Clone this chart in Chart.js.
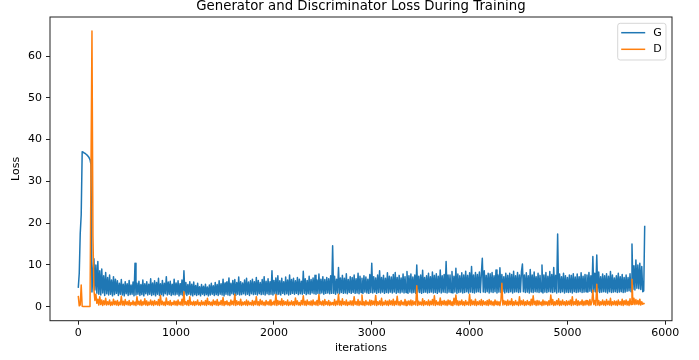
<!DOCTYPE html>
<html>
<head>
<meta charset="utf-8">
<title>Generator and Discriminator Loss During Training</title>
<script src="https://cdn.jsdelivr.net/npm/chart.js@4/dist/chart.umd.min.js"></script>
<style>
  html, body { margin: 0; padding: 0; background: #fff; }
  canvas { display: block; }
</style>
</head>
<body>
<canvas id="graficoLoss" width="699" height="360"></canvas>
<script>
// loss values, one sample every 10 iterations (one row = 100 iterations)
const ITER_STEP = 10;
const seriesLabels = ['G', 'D'];

const lossG = [
  4.5, 8.0, 17.5, 22.0, 37.1, 37.0, 36.8, 36.7, 36.5, 36.3,
  36.0, 35.7, 35.2, 34.0, 3.5, 8.0, 11.5, 4.0, 10.0, 3.2,
  10.8, 3.0, 8.6, 2.8, 9.0, 3.3, 7.4, 2.7, 8.2, 3.1,
  7.0, 2.8, 7.6, 3.0, 6.4, 2.6, 7.2, 2.9, 6.6, 3.2,
  6.2, 2.7, 5.6, 3.0, 6.5, 2.8, 5.4, 2.6, 6.0, 3.1,
  5.5, 2.7, 6.3, 2.9, 5.2, 3.0, 5.9, 2.6, 10.4, 2.8,
  5.6, 3.0, 6.1, 2.7, 5.3, 2.9, 6.4, 2.6, 5.5, 3.1,
  6.0, 2.8, 5.4, 3.0, 6.7, 2.7, 5.7, 2.9, 6.2, 2.6,
  5.8, 3.0, 6.8, 2.7, 5.5, 2.9, 6.3, 2.6, 5.6, 3.1,
  7.2, 2.8, 5.9, 3.0, 6.1, 2.7, 5.4, 2.9, 6.6, 2.8,
  5.7, 3.0, 6.2, 2.6, 5.5, 2.9, 6.4, 2.7, 8.6, 3.0,
  5.8, 2.7, 5.3, 3.0, 6.0, 2.8, 5.4, 2.6, 5.9, 2.9,
  5.1, 2.7, 5.6, 2.9, 4.8, 2.6, 5.3, 3.0, 4.9, 2.7,
  5.4, 2.9, 4.7, 2.6, 5.2, 2.8, 5.6, 3.0, 5.0, 2.7,
  5.8, 2.9, 5.3, 2.7, 6.2, 3.0, 5.5, 2.8, 6.6, 2.6,
  5.7, 3.0, 6.0, 2.8, 6.9, 2.7, 5.6, 3.1, 6.3, 2.9,
  6.5, 2.7, 5.8, 3.0, 7.1, 2.8, 6.0, 2.9, 5.7, 3.1,
  6.4, 2.8, 6.8, 3.0, 5.9, 2.7, 6.2, 3.1, 6.6, 2.9,
  6.0, 3.0, 7.0, 2.8, 6.3, 3.1, 5.8, 2.9, 6.5, 3.0,
  7.2, 2.8, 6.1, 3.1, 6.7, 2.9, 6.0, 3.0, 8.6, 2.8,
  6.3, 3.1, 6.9, 2.9, 7.4, 3.0, 6.2, 2.8, 6.8, 3.2,
  6.0, 2.9, 7.1, 3.1, 6.4, 2.8, 7.6, 3.0, 6.5, 3.2,
  6.8, 3.0, 6.2, 3.2, 7.0, 2.9, 6.6, 3.1, 6.1, 3.0,
  8.5, 3.2, 6.7, 2.9, 6.3, 3.1, 7.3, 3.0, 6.5, 3.3,
  6.9, 3.1, 7.5, 3.0, 6.4, 3.2, 7.8, 3.1, 6.6, 3.3,
  7.2, 3.0, 6.5, 3.2, 7.0, 3.3, 6.7, 3.1, 7.4, 3.2,
  14.6, 3.2, 7.3, 3.0, 6.6, 3.3, 9.4, 3.1, 6.9, 3.4,
  7.5, 3.2, 6.8, 3.3, 7.9, 3.1, 6.5, 3.4, 7.2, 3.2,
  7.0, 3.4, 7.6, 3.2, 6.7, 3.3, 8.0, 3.1, 7.3, 3.4,
  6.8, 3.2, 7.4, 3.5, 7.1, 3.3, 6.6, 3.2, 7.7, 3.4,
  10.4, 3.3, 7.2, 3.5, 6.9, 3.2, 7.6, 3.4, 8.6, 3.3,
  7.0, 3.5, 7.5, 3.2, 6.8, 3.4, 8.1, 3.3, 7.3, 3.5,
  7.1, 3.3, 7.7, 3.5, 8.2, 3.2, 7.0, 3.4, 7.5, 3.3,
  6.9, 3.5, 7.8, 3.3, 7.2, 3.4, 8.4, 3.2, 7.4, 3.5,
  7.8, 3.3, 7.1, 3.4, 7.6, 3.2, 10.0, 3.5, 7.3, 3.4,
  7.6, 3.2, 8.7, 3.4, 7.0, 3.5, 7.4, 3.3, 8.0, 3.4,
  7.2, 3.5, 8.3, 3.3, 7.5, 3.4, 7.9, 3.2, 7.3, 3.5,
  8.8, 3.3, 7.4, 3.5, 7.7, 3.4, 10.8, 3.3, 7.6, 3.5,
  7.6, 3.4, 8.4, 3.3, 7.3, 3.5, 9.2, 3.2, 7.8, 3.4,
  7.4, 3.5, 8.1, 3.3, 7.6, 3.4, 8.5, 3.6, 7.5, 3.3,
  8.1, 3.5, 9.6, 3.4, 7.6, 3.3, 8.2, 3.5, 7.7, 3.6,
  8.3, 3.4, 7.8, 11.6, 3.5, 8.6, 3.4, 7.5, 3.6, 8.0,
  3.3, 7.9, 3.5, 8.2, 3.4, 7.4, 3.6, 8.8, 3.3, 7.6,
  3.5, 9.3, 3.4, 7.7, 3.6, 7.2, 3.3, 8.0, 3.5, 7.5,
  3.4, 8.0, 3.6, 7.7, 3.3, 8.5, 3.5, 7.4, 3.6, 8.2,
  3.4, 7.6, 3.5, 8.4, 10.2, 3.6, 7.6, 3.4, 8.1, 3.5,
  7.4, 3.3, 8.9, 3.5, 7.6, 3.4, 8.3, 3.6, 7.2, 3.5,
  8.0, 3.4, 7.5, 3.6, 10.0, 3.3, 7.6, 3.5, 8.2, 3.4,
  7.3, 3.6, 8.4, 3.5, 7.7, 3.4, 9.4, 3.6, 7.5, 3.3,
  17.4, 3.5, 7.8, 3.4, 7.2, 3.6, 8.0, 3.3, 7.4, 3.5,
  7.0, 3.4, 7.6, 3.5, 7.5, 3.3, 7.9, 3.6, 7.1, 3.4,
  7.8, 3.5, 7.2, 3.6, 8.1, 3.4, 7.3, 3.5, 7.7, 3.6,
  7.6, 3.5, 8.2, 3.7, 7.4, 3.4, 12.0, 3.6, 8.0, 3.5,
  12.4, 3.6, 8.3, 3.4, 7.2, 3.5, 7.8, 3.6, 7.4, 3.5,
  7.9, 3.3, 7.3, 3.6, 8.4, 3.4, 7.6, 3.5, 6.9, 3.6,
  7.4, 3.4, 8.0, 3.5, 7.2, 3.6, 7.7, 3.4, 7.0, 3.5,
  7.6, 3.7, 7.0, 3.8, 7.9, 3.6, 15.0, 4.2, 9.8, 4.0,
  11.2, 4.4, 10.0, 4.3, 10.4, 4.1, 9.6, 3.6, 3.8, 19.4
];

const lossD = [
  2.6, 0.2, 0.4, 5.2, 0.1, 0.05, 0.05, 0.05, 0.05, 0.05,
  0.05, 0.05, 0.05, 0.05, 66.0, 16.8, 4.0, 1.5, 3.0, 0.8,
  1.8, 0.4, 2.4, 0.5, 1.6, 0.3, 1.4, 0.5, 2.0, 0.4,
  1.2, 0.5, 1.6, 0.3, 1.1, 0.4, 1.8, 0.5, 1.3, 0.4,
  1.5, 0.3, 1.1, 0.5, 2.5, 0.4, 1.3, 0.3, 1.7, 0.5,
  1.2, 0.4, 1.5, 0.3, 1.0, 0.5, 1.4, 0.4, 1.1, 0.3,
  2.4, 0.5, 1.3, 0.4, 1.6, 0.3, 1.2, 0.5, 1.9, 0.4,
  1.4, 0.3, 1.1, 0.5, 1.6, 0.4, 1.3, 0.3, 1.5, 0.5,
  1.2, 0.4, 1.7, 0.3, 2.7, 0.5, 1.3, 0.4, 1.1, 0.3,
  2.1, 0.5, 1.2, 0.4, 1.5, 0.3, 1.0, 0.5, 1.4, 0.4,
  1.3, 0.3, 1.6, 0.5, 1.1, 0.4, 1.8, 0.3, 3.6, 0.5,
  1.2, 0.4, 1.5, 0.3, 2.4, 0.5, 1.1, 0.4, 1.3, 0.3,
  1.2, 0.5, 1.6, 0.4, 1.0, 0.3, 1.4, 0.5, 1.1, 0.4,
  1.5, 0.3, 2.0, 0.5, 1.2, 0.4, 1.1, 0.3, 1.6, 0.5,
  1.3, 0.4, 1.7, 0.3, 1.1, 0.5, 1.5, 0.4, 2.2, 0.3,
  1.2, 0.5, 1.4, 0.4, 1.0, 0.3, 1.6, 0.5, 1.3, 0.4,
  3.0, 0.3, 1.4, 0.5, 1.2, 0.4, 1.8, 0.3, 1.1, 0.5,
  1.2, 0.4, 1.6, 0.3, 1.3, 0.5, 1.0, 0.4, 1.5, 0.3,
  1.3, 0.5, 2.4, 0.4, 1.2, 0.3, 1.7, 0.5, 1.4, 0.4,
  1.1, 0.3, 1.5, 0.5, 1.2, 0.4, 1.6, 0.3, 1.1, 0.5,
  1.3, 0.4, 2.9, 0.3, 1.5, 0.5, 1.3, 0.4, 1.9, 0.3,
  1.4, 0.5, 1.2, 0.4, 1.6, 0.3, 1.1, 0.5, 1.4, 0.4,
  1.2, 0.3, 2.1, 0.5, 1.4, 0.4, 1.0, 0.3, 1.5, 0.5,
  2.6, 0.4, 1.3, 0.3, 1.6, 0.5, 1.2, 0.4, 1.4, 0.3,
  1.6, 0.5, 1.1, 0.4, 1.5, 0.3, 2.9, 0.5, 1.2, 0.4,
  1.4, 0.3, 1.7, 0.5, 1.2, 0.4, 1.5, 0.3, 1.1, 0.5,
  1.0, 0.4, 1.7, 0.3, 1.3, 0.5, 3.0, 0.4, 1.3, 0.3,
  1.9, 0.5, 1.2, 0.4, 1.6, 0.3, 1.1, 0.5, 1.4, 0.4,
  1.4, 0.3, 2.4, 0.5, 1.2, 0.4, 1.7, 0.3, 1.3, 0.5,
  2.8, 0.4, 1.2, 0.3, 1.5, 0.5, 1.1, 0.4, 1.6, 0.3,
  1.5, 0.5, 1.3, 0.4, 2.7, 0.3, 1.2, 0.5, 1.4, 0.4,
  2.0, 0.3, 1.1, 0.5, 1.5, 0.4, 1.3, 0.3, 1.6, 0.5,
  1.4, 0.4, 1.8, 0.3, 1.3, 0.5, 2.5, 0.4, 1.2, 0.3,
  1.5, 0.5, 1.1, 0.4, 1.7, 0.3, 1.3, 0.5, 1.4, 0.4,
  1.6, 0.3, 1.4, 0.5, 1.2, 0.4, 5.0, 0.3, 1.3, 0.5,
  1.1, 0.4, 1.9, 0.3, 1.4, 0.5, 1.2, 0.4, 1.6, 0.3,
  1.3, 0.5, 1.7, 0.4, 2.6, 0.3, 1.4, 0.5, 1.1, 0.4,
  2.1, 0.3, 1.3, 0.5, 1.5, 0.4, 1.3, 0.3, 1.6, 0.5,
  1.5, 0.4, 1.2, 0.3, 2.0, 0.5, 2.8, 0.4, 1.4, 0.3,
  1.3, 0.5, 1.6, 0.4, 1.2, 0.3, 1.5, 0.5, 1.1, 0.4,
  3.0, 0.3, 1.6, 0.5, 1.3, 0.4, 1.8, 0.3, 1.2, 0.5,
  1.4, 0.4, 1.7, 0.3, 1.4, 0.5, 1.2, 0.4, 1.5, 0.3,
  1.7, 0.5, 1.4, 0.4, 1.2, 0.3, 1.6, 0.5, 1.3, 0.4,
  1.2, 0.3, 1.5, 5.6, 0.4, 1.5, 0.5, 1.3, 0.3, 1.6,
  0.4, 1.3, 0.5, 1.9, 0.3, 1.2, 0.4, 1.5, 0.5, 1.1,
  0.3, 2.4, 0.4, 1.4, 0.5, 1.6, 0.3, 1.2, 0.4, 1.5,
  0.5, 1.2, 0.3, 1.8, 0.4, 2.6, 0.5, 1.3, 0.3, 1.5,
  0.4, 1.4, 0.5, 1.1, 0.3, 1.6, 0.4, 1.3, 0.5, 1.2,
  0.3, 1.4, 0.4, 2.8, 0.5, 1.7, 0.3, 1.2, 0.4, 1.5,
  0.5, 1.9, 0.3, 1.3, 0.4, 1.6, 0.5, 1.2, 0.3, 1.4,
  0.4, 1.3, 0.5, 1.6, 0.3, 2.4, 0.4, 1.2, 0.5, 1.8,
  0.3, 1.4, 0.4, 1.2, 0.5, 1.6, 0.3, 1.3, 0.4, 1.5,
  0.5, 1.4, 0.3, 1.7, 0.4, 1.2, 4.0, 0.5, 1.5, 0.3,
  5.4, 0.4, 1.5, 0.3, 1.2, 0.5, 1.6, 0.4, 1.3, 0.3,
  1.7, 0.5, 1.3, 0.4, 2.0, 0.3, 1.2, 0.5, 1.4, 0.4,
  1.3, 0.3, 1.6, 0.5, 1.2, 0.4, 1.8, 0.3, 1.4, 0.5,
  1.6, 0.4, 1.3, 0.3, 1.9, 0.5, 6.6, 0.6, 2.0, 0.5,
  1.7, 0.6, 1.5, 0.5, 1.8, 0.4, 1.2, 0.6, 0.8, 0.7
];

const xTicks = [0, 1000, 2000, 3000, 4000, 5000, 6000];
const yTicks = [0, 10, 20, 30, 40, 50, 60];

Chart.defaults.font.family = "'DejaVu Sans', sans-serif";
Chart.defaults.color = '#000';

const toPoints = arr => arr.map((v, i) => ({ x: i * ITER_STEP, y: v }));

// marco de los ejes + leyenda estilo matplotlib (dentro del area)
const marcoYLeyenda = {
  id: 'marcoYLeyenda',
  afterDraw(chart) {
    const ctx = chart.ctx;
    const a = chart.chartArea;
    ctx.save();
    ctx.strokeStyle = '#222';
    ctx.lineWidth = 1;
    ctx.strokeRect(a.left, a.top, a.right - a.left, a.bottom - a.top);

    const boxW = 48.3, boxH = 36.7;
    const bx = a.right - 6 - boxW;
    const by = a.top + 6.3;
    ctx.beginPath();
    ctx.roundRect(bx, by, boxW, boxH, 2.5);
    ctx.fillStyle = 'rgba(255,255,255,0.8)';
    ctx.fill();
    ctx.strokeStyle = 'rgba(204,204,204,0.8)';
    ctx.stroke();

    ctx.font = "11px 'DejaVu Sans'";
    ctx.textBaseline = 'middle';
    ctx.textAlign = 'left';
    chart.data.datasets.forEach((ds, i) => {
      const y = by + 9.4 + i * 16.6;
      ctx.beginPath();
      ctx.moveTo(bx + 3.5, y);
      ctx.lineTo(bx + 27.5, y);
      ctx.strokeStyle = ds.borderColor;
      ctx.lineWidth = 1.5;
      ctx.stroke();
      ctx.fillStyle = '#000';
      ctx.fillText(ds.label, bx + 35.6, y);
    });
    ctx.restore();
  }
};

const ctxLoss = document.getElementById('graficoLoss').getContext('2d');
new Chart(ctxLoss, {
  type: 'line',
  data: {
    datasets: [
      {
        label: seriesLabels[0],
        data: toPoints(lossG),
        borderColor: '#1f77b4',
        borderWidth: 1.5,
        borderJoinStyle: 'round',
        pointRadius: 0,
        fill: false,
        order: 1
      },
      {
        label: seriesLabels[1],
        data: toPoints(lossD),
        borderColor: '#ff7f0e',
        borderWidth: 1.5,
        borderJoinStyle: 'round',
        pointRadius: 0,
        fill: false,
        order: 0
      }
    ]
  },
  options: {
    responsive: false,
    animation: false,
    events: [],
    layout: { padding: { left: 0, right: 27, top: 0, bottom: 0 } },
    plugins: {
      legend: { display: false },
      tooltip: { enabled: false },
      title: {
        display: true,
        text: 'Generator and Discriminator Loss During Training',
        fullSize: false,
        color: '#000',
        font: { size: 13.3, weight: 'normal', lineHeight: 1 },
        padding: { top: 0, bottom: 3.7 }
      }
    },
    scales: {
      x: {
        type: 'linear',
        min: -289,
        max: 6069,
        afterBuildTicks: s => { s.ticks = xTicks.map(v => ({ value: v })); },
        afterFit: s => { s.height = 39.3; },
        border: { display: false },
        grid: { drawOnChartArea: false, tickLength: 4, color: '#222', lineWidth: 1 },
        ticks: { font: { size: 11 }, padding: 2, maxRotation: 0, color: '#000', callback: v => String(v) },
        title: {
          display: true,
          text: 'iterations',
          color: '#000',
          font: { size: 11 },
          padding: { top: 0, bottom: 5.4 }
        }
      },
      y: {
        min: -3.35,
        max: 69.35,
        afterBuildTicks: s => { s.ticks = yTicks.map(v => ({ value: v })); },
        afterFit: s => { s.width = 50; },
        border: { display: false },
        grid: { drawOnChartArea: false, tickLength: 4, color: '#222', lineWidth: 1 },
        ticks: { font: { size: 11 }, padding: 4, color: '#000', callback: v => String(v) },
        title: {
          display: true,
          text: 'Loss',
          color: '#000',
          font: { size: 11 },
          padding: { top: 9.9, bottom: 0 }
        }
      }
    }
  },
  plugins: [marcoYLeyenda]
});
</script>
</body>
</html>
